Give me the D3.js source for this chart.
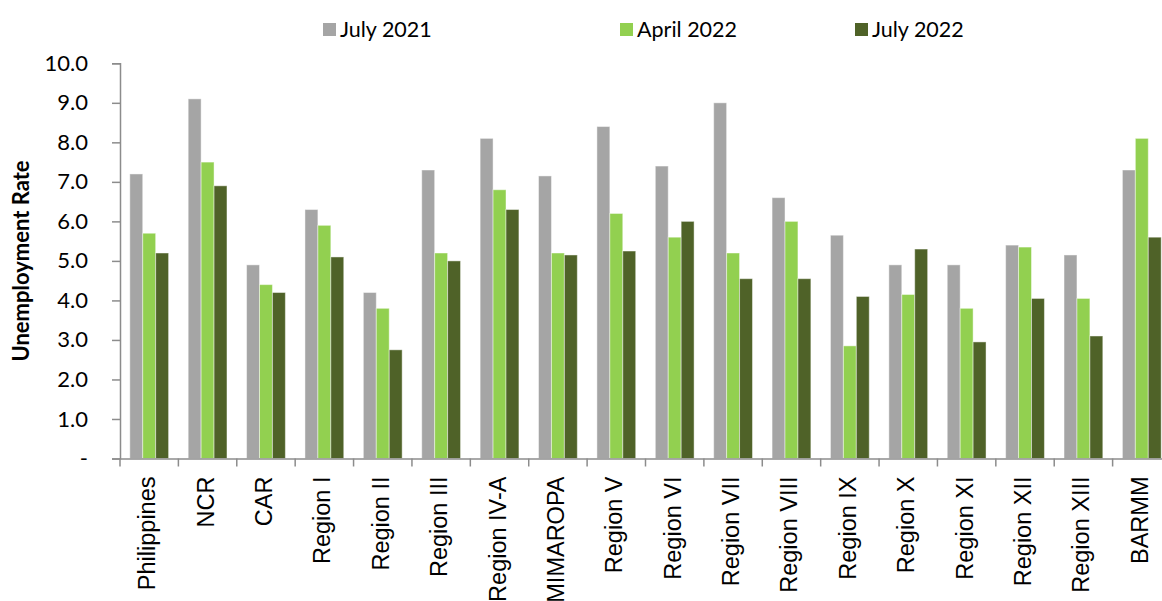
<!DOCTYPE html>
<html>
<head>
<meta charset="utf-8">
<script src="https://cdn.jsdelivr.net/npm/d3@7"></script>
<style>
  body { margin: 0; background: #fff; overflow: hidden; }
  svg { display: block; }
</style>
</head>
<body>
<div id="chart"></div>
<script>
// Data
var categories = ["Philippines", "NCR", "CAR", "Region I", "Region II", "Region III",
  "Region IV-A", "MIMAROPA", "Region V", "Region VI", "Region VII", "Region VIII",
  "Region IX", "Region X", "Region XI", "Region XII", "Region XIII", "BARMM"];
var seriesNames = ["July 2021", "April 2022", "July 2022"];
var july2021 = [7.2, 9.1, 4.9, 6.3, 4.2, 7.3, 8.1, 7.15, 8.4, 7.4, 9.0, 6.6, 5.65, 4.9, 4.9, 5.4, 5.15, 7.3];
var april2022 = [5.7, 7.5, 4.4, 5.9, 3.8, 5.2, 6.8, 5.2, 6.2, 5.6, 5.2, 6.0, 2.85, 4.15, 3.8, 5.35, 4.05, 8.1];
var july2022 = [5.2, 6.9, 4.2, 5.1, 2.75, 5.0, 6.3, 5.15, 5.25, 6.0, 4.55, 4.55, 4.1, 5.3, 2.95, 4.05, 3.1, 5.6];
var yTicks = [0, 1, 2, 3, 4, 5, 6, 7, 8, 9, 10];
var colors = ["#a5a5a5", "#92d050", "#4f6228"];

var svgWidth = 1162;
var svgHeight = 601;
var margin = { top: 63.3, right: -9, bottom: 142.5, left: 120 };
var width = svgWidth - margin.left - margin.right;
var height = svgHeight - margin.top - margin.bottom;

var svg = d3.select("#chart")
  .append("svg")
  .attr("width", svgWidth)
  .attr("height", svgHeight);

var chartGroup = svg.append("g")
  .attr("transform", `translate(${margin.left}, ${margin.top})`);

// Scales
var x0 = d3.scaleBand()
  .domain(categories)
  .range([0, width])
  .paddingInner(0)
  .paddingOuter(0);

var x1 = d3.scaleBand()
  .domain(seriesNames)
  .range([9.8, x0.bandwidth() - 9.8]);

var y = d3.scaleLinear()
  .domain([0, 10])
  .range([height, 0]);

var rows = categories.map(function(c, i) {
  return { cat: c, values: [july2021[i], april2022[i], july2022[i]] };
});

// Bars
var groups = chartGroup.selectAll(".grp")
  .data(rows)
  .enter()
  .append("g")
  .attr("class", "grp")
  .attr("transform", d => `translate(${x0(d.cat)}, 0)`);

groups.selectAll("rect")
  .data(d => d.values.map((v, k) => ({ key: seriesNames[k], v: v, k: k })))
  .enter()
  .append("rect")
  .attr("x", d => x1(d.key))
  .attr("y", d => y(d.v))
  .attr("width", x1.bandwidth())
  .attr("height", d => height - y(d.v))
  .attr("fill", d => colors[d.k])
  .attr("stroke", "#ffffff")
  .attr("stroke-opacity", 0.45)
  .attr("stroke-width", 1);

// Y axis
var leftAxis = d3.axisLeft(y)
  .tickValues(yTicks)
  .tickSize(8)
  .tickPadding(24)
  .tickFormat(d => d === 0 ? "-" : d3.format(".1f")(d));

var yAxisG = chartGroup.append("g").call(leftAxis);
yAxisG.select(".domain").attr("stroke", "#8c8c8c").attr("stroke-width", 1.5);
yAxisG.selectAll(".tick line").attr("stroke", "#8c8c8c").attr("stroke-width", 1.5);
yAxisG.selectAll(".tick text")
  .style("font-family", "Lato, 'Open Sans', sans-serif")
  .style("font-size", "22px")
  .attr("fill", "#000");

// X axis
var bottomAxis = d3.axisBottom(x0).tickSize(0).tickFormat("");
var xAxisG = chartGroup.append("g")
  .attr("transform", `translate(0, ${height})`)
  .call(bottomAxis);
xAxisG.select(".domain").attr("stroke", "#8c8c8c").attr("stroke-width", 1.5);

xAxisG.selectAll(".sep")
  .data(categories)
  .enter()
  .append("line")
  .attr("class", "sep")
  .attr("x1", d => x0(d))
  .attr("x2", d => x0(d))
  .attr("y1", 0)
  .attr("y2", 8)
  .attr("stroke", "#8c8c8c")
  .attr("stroke-width", 1.5);

xAxisG.selectAll(".catlabel")
  .data(categories)
  .enter()
  .append("text")
  .attr("class", "catlabel")
  .attr("transform", d => `translate(${x0(d) + x0.bandwidth() / 2 + 6}, 18) rotate(-90)`)
  .style("text-anchor", "end")
  .style("font-family", "'Liberation Sans', Arial, sans-serif")
  .style("font-size", "23.5px")
  .attr("fill", "#000")
  .text(d => d);

// Y axis title
svg.append("text")
  .attr("transform", "translate(29, 261) rotate(-90)")
  .style("text-anchor", "middle")
  .style("font-family", "Lato, 'Open Sans', sans-serif")
  .style("font-weight", "bold")
  .style("font-size", "22px")
  .attr("fill", "#000")
  .text("Unemployment Rate");

// Legend
var legendX = [323, 620, 855];
var legend = svg.selectAll(".legend")
  .data(seriesNames)
  .enter()
  .append("g")
  .attr("class", "legend")
  .attr("transform", (d, i) => `translate(${legendX[i]}, 23)`);

legend.append("rect")
  .attr("width", 13)
  .attr("height", 13)
  .attr("fill", (d, i) => colors[i]);

legend.append("text")
  .attr("x", 17)
  .attr("y", 14)
  .style("font-family", "Lato, 'Open Sans', sans-serif")
  .style("font-size", "21.5px")
  .attr("fill", "#000")
  .text(d => d);
</script>
</body>
</html>
